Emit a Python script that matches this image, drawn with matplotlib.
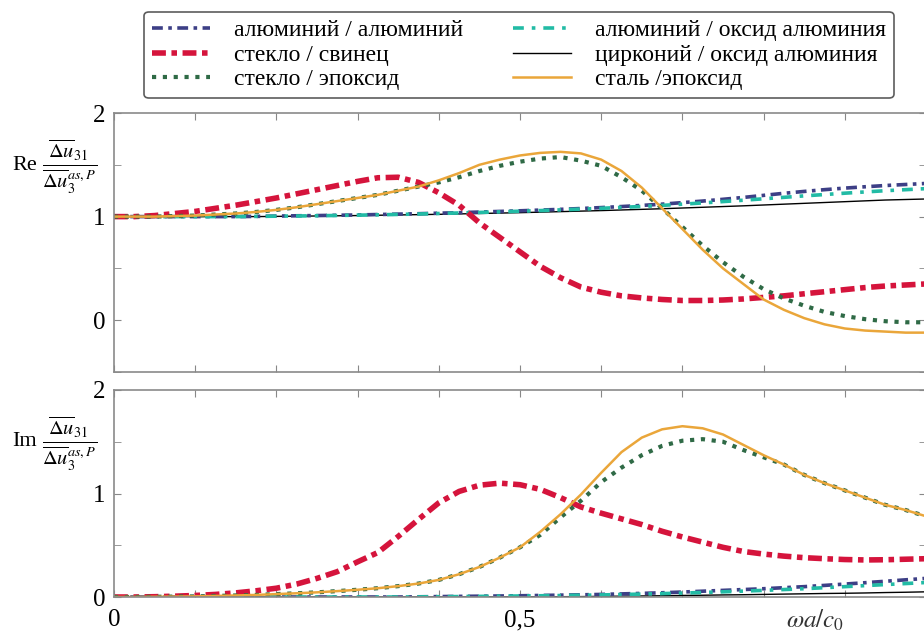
import numpy as np
import matplotlib
matplotlib.use('Agg')
import matplotlib.pyplot as plt
from matplotlib.ticker import MultipleLocator, FixedLocator, FixedFormatter

plt.rcParams['font.family'] = ['Liberation Serif', 'DejaVu Serif']
plt.rcParams['mathtext.fontset'] = 'stix'

# omega*a/c0 grid, step 0.025
x = np.arange(41) * 0.025

labels = ['алюминий / алюминий', 'алюминий / оксид алюминия',
          'стекло / свинец', 'цирконий / оксид алюминия',
          'стекло / эпоксид', 'сталь /эпоксид']

# Re part
re_al_al = [1.0, 1.0, 1.0, 1.0, 1.0, 1.0, 1.0, 1.002, 1.005, 1.008,
            1.01, 1.013, 1.016, 1.02, 1.024, 1.028, 1.033, 1.038, 1.044, 1.05,
            1.056, 1.063, 1.07, 1.078, 1.087, 1.097, 1.108, 1.12, 1.135, 1.15,
            1.167, 1.185, 1.205, 1.225, 1.243, 1.26, 1.275, 1.288, 1.30, 1.31, 1.32]
re_al_ox = [1.0, 1.0, 1.0, 1.0, 1.0, 1.0, 1.0, 1.002, 1.004, 1.006,
            1.008, 1.011, 1.014, 1.017, 1.021, 1.025, 1.03, 1.035, 1.04, 1.046,
            1.052, 1.058, 1.065, 1.072, 1.08, 1.089, 1.098, 1.108, 1.12, 1.132,
            1.145, 1.158, 1.172, 1.186, 1.20, 1.213, 1.226, 1.238, 1.25, 1.26, 1.27]
re_gl_pb = [1.0, 1.0, 1.01, 1.03, 1.05, 1.08, 1.11, 1.145, 1.18, 1.22,
            1.26, 1.30, 1.34, 1.375, 1.38, 1.33, 1.23, 1.11, 0.94, 0.80,
            0.66, 0.52, 0.41, 0.32, 0.27, 0.235, 0.215, 0.20, 0.19, 0.19,
            0.195, 0.205, 0.22, 0.235, 0.255, 0.275, 0.295, 0.315, 0.33, 0.34, 0.35]
re_zr_ox = [1.0, 1.0, 1.0, 1.0, 1.0, 1.0, 1.0, 1.0, 1.002, 1.004,
            1.006, 1.008, 1.01, 1.013, 1.016, 1.019, 1.022, 1.026, 1.03, 1.034,
            1.038, 1.043, 1.048, 1.053, 1.058, 1.064, 1.07, 1.076, 1.083, 1.09,
            1.097, 1.104, 1.112, 1.12, 1.128, 1.136, 1.144, 1.152, 1.16, 1.165, 1.17]
re_gl_ep = [1.0, 1.0, 1.0, 1.005, 1.01, 1.02, 1.03, 1.045, 1.065, 1.09,
            1.12, 1.15, 1.18, 1.21, 1.25, 1.29, 1.33, 1.38, 1.44, 1.49,
            1.53, 1.56, 1.575, 1.54, 1.49, 1.38, 1.25, 1.08, 0.90, 0.72,
            0.56, 0.42, 0.30, 0.21, 0.14, 0.08, 0.04, 0.01, -0.01, -0.02, -0.02]
re_st_ep = [1.0, 1.0, 1.0, 1.005, 1.01, 1.02, 1.03, 1.045, 1.065, 1.09,
            1.12, 1.15, 1.18, 1.21, 1.25, 1.29, 1.35, 1.42, 1.50, 1.55,
            1.59, 1.615, 1.625, 1.61, 1.55, 1.44, 1.28, 1.08, 0.88, 0.68,
            0.50, 0.35, 0.20, 0.10, 0.02, -0.04, -0.08, -0.10, -0.11, -0.12, -0.12]

# Im part
im_al_al = [0] * 15 + [0.002, 0.004, 0.006, 0.008, 0.01,
            0.012, 0.015, 0.018, 0.021, 0.025, 0.03, 0.035, 0.041, 0.048, 0.056,
            0.064, 0.072, 0.08, 0.09, 0.10, 0.112, 0.125, 0.138, 0.152, 0.166, 0.18]
im_al_ox = [0] * 15 + [0.001, 0.003, 0.004, 0.006, 0.008,
            0.01, 0.012, 0.014, 0.017, 0.02, 0.024, 0.028, 0.033, 0.038, 0.044,
            0.05, 0.057, 0.064, 0.072, 0.08, 0.09, 0.10, 0.11, 0.12, 0.13, 0.14]
im_gl_pb = [0, 0, 0.003, 0.008, 0.015, 0.025, 0.04, 0.06, 0.085, 0.125,
            0.18, 0.245, 0.34, 0.43, 0.585, 0.75, 0.91, 1.02, 1.08, 1.10,
            1.085, 1.04, 0.96, 0.87, 0.81, 0.755, 0.70, 0.635, 0.58, 0.53,
            0.48, 0.44, 0.415, 0.395, 0.38, 0.37, 0.362, 0.358, 0.36, 0.365, 0.37]
im_zr_ox = [0] * 18 + [0.001, 0.001,
            0.002, 0.002, 0.003, 0.004, 0.006, 0.008, 0.01, 0.012, 0.015, 0.017,
            0.02, 0.022, 0.025, 0.028, 0.031, 0.034, 0.036, 0.039, 0.043, 0.046, 0.05]
im_gl_ep = [0, 0, 0.002, 0.004, 0.006, 0.01, 0.015, 0.02, 0.028, 0.036,
            0.045, 0.057, 0.07, 0.085, 0.105, 0.13, 0.165, 0.22, 0.29, 0.38,
            0.48, 0.60, 0.77, 0.93, 1.11, 1.25, 1.37, 1.46, 1.51, 1.525,
            1.50, 1.42, 1.35, 1.28, 1.18, 1.10, 1.03, 0.96, 0.89, 0.84, 0.78]
im_st_ep = [0, 0, 0.002, 0.004, 0.006, 0.01, 0.015, 0.02, 0.028, 0.036,
            0.045, 0.057, 0.07, 0.085, 0.105, 0.13, 0.165, 0.22, 0.29, 0.38,
            0.48, 0.63, 0.80, 0.99, 1.20, 1.40, 1.54, 1.62, 1.65, 1.63,
            1.57, 1.47, 1.37, 1.28, 1.18, 1.10, 1.03, 0.96, 0.89, 0.84, 0.78]

styles = [
    dict(color='#3d3f86', lw=2.6, ls=(0, (3, 1.5, 1, 1.5))),
    dict(color='#22bba5', lw=2.6, ls=(0, (3, 2.2, 1, 2.2))),
    dict(color='#d5143c', lw=4.0, ls=(0, (2.5, 1.0, 1, 1.0))),
    dict(color='black', lw=1.0, ls='-'),
    dict(color='#2f6a46', lw=3.0, ls=(0, (1, 1.6))),
    dict(color='#eaa63a', lw=1.8, ls='-'),
]

re_data = [re_al_al, re_al_ox, re_gl_pb, re_zr_ox, re_gl_ep, re_st_ep]
im_data = [im_al_al, im_al_ox, im_gl_pb, im_zr_ox, im_gl_ep, im_st_ep]

fig = plt.figure(figsize=(9.24, 6.35), dpi=100)
W, H = 924, 635
ax1 = fig.add_axes([114 / W, 1 - 372 / H, (926 - 114) / W, (372 - 113) / H])
ax2 = fig.add_axes([114 / W, 1 - 597 / H, (926 - 114) / W, (597 - 390) / H])

order = [3, 0, 1, 2, 4, 5]
lines = {}
for i in order:
    st = styles[i]
    l, = ax1.plot(x, re_data[i], color=st['color'], lw=st['lw'], ls=st['ls'], label=labels[i])
    lines[i] = l
    ax2.plot(x, im_data[i], color=st['color'], lw=st['lw'], ls=st['ls'])

xt = [i * 0.1 for i in range(11)]
xt_labels = ['0', '', '', '', '', '0,5', '', '', '', '', '']
ax1.set_ylim(-0.5, 2)
ax2.set_ylim(0, 2)
for ax in (ax1, ax2):
    ax.set_xlim(0, 1)
    ax.xaxis.set_major_locator(FixedLocator(xt))
    ax.yaxis.set_major_locator(FixedLocator([0, 1, 2]))
    ax.yaxis.set_minor_locator(MultipleLocator(0.5))
    ax.tick_params(which='both', direction='in', top=True, right=True,
                   color='#888888', labelsize=18, length=5, pad=6)
    for s in ax.spines.values():
        s.set_color('#8a8a8a')
        s.set_linewidth(1.2)
ax1.set_xticklabels([])
ax2.xaxis.set_major_formatter(FixedFormatter(xt_labels))
ax2.tick_params(axis='x', pad=9)

frac = r'$\frac{\overline{\Delta u}_{31}}{\overline{\Delta u}_{3}^{as,P}}$'
fig.text(12 / W, 1 - 165 / H, 'Re', fontsize=16, va='center', ha='left')
fig.text(42 / W, 1 - 167 / H, frac, fontsize=21, va='center', ha='left')
fig.text(12 / W, 1 - 442 / H, 'Im', fontsize=16, va='center', ha='left')
fig.text(42 / W, 1 - 444 / H, frac, fontsize=21, va='center', ha='left')
fig.text(815 / W, 1 - 620 / H, r'$\omega a/c_0$', fontsize=18, ha='center', va='center',
         color='#333333')

handles = [lines[i] for i in [0, 2, 4, 1, 3, 5]]
leg_labels = [labels[i] for i in [0, 2, 4, 1, 3, 5]]
leg = fig.legend(handles, leg_labels, ncol=2, loc='center', mode='expand',
                 bbox_to_anchor=(132 / W, 1 - 97 / H, (906 - 132) / W, 84 / H),
                 fontsize=17, frameon=True, fancybox=True, handlelength=2.45,
                 handletextpad=1.0, labelspacing=0.12, borderpad=0.35,
                 columnspacing=1.5)
leg.get_frame().set_edgecolor('#333333')
leg.get_frame().set_linewidth(1.2)

fig.savefig('out.png', dpi=100)
